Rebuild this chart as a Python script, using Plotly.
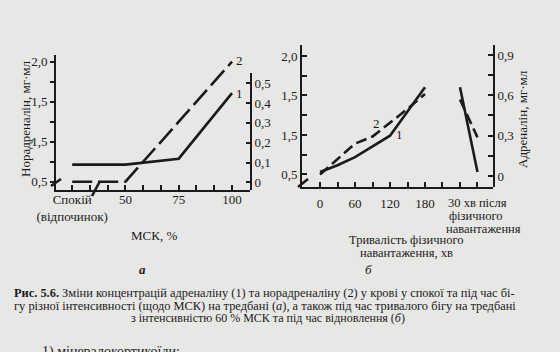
import plotly.graph_objects as go

# ---------------- data ----------------
msk_ticktext = ["Спокій<br>(відпочинок)", "50", "75", "100"]
msk_x = [25, 50, 75, 100]          # rest ("Спокій") drawn at 25 on the broken axis
adrenaline_a = [0.09, 0.09, 0.12, 0.45]
noradrenaline_a = [0.50, 0.50, 1.25, 2.00]

run_minutes = [0, 30, 60, 90, 120, 150, 180]
adrenaline_b = [0.03, 0.08, 0.14, 0.22, 0.30, 0.48, 0.66]
noradrenaline_b = [0.50, 0.70, 0.89, 0.98, 1.15, 1.33, 1.52]

recovery_minutes = [0, 30]
adrenaline_rec = [0.66, 0.03]
noradrenaline_rec = [1.45, 0.97]

nor_ticks = [0.5, 0.75, 1.0, 1.25, 1.5, 1.75, 2.0]
nor_ticktext = ["0,5", "", "1,5", "", "1,5", "", "2,0"]
adr_a_ticks = [0, 0.1, 0.2, 0.3, 0.4, 0.5]
adr_a_ticktext = ["0", "0,1", "0,2", "0,3", "0,4", "0,5"]
adr_b_ticks = [0, 0.15, 0.3, 0.45, 0.6, 0.75, 0.9]
adr_b_ticktext = ["0", "", "0,3", "", "0,6", "", "0,9"]
run_ticks = [0, 30, 60, 90, 120, 150, 180, 210, 240, 270]
run_ticktext = ["0", "", "60", "", "120", "", "180", "", "", ""]

REC_OFFSET = 240   # recovery block placed after the run on the same axis

# ---------------- style ----------------
W, H = 560, 352
INK = "#1b1b1b"
BG = "#e7e7e5"
FONT = "Liberation Serif, Times New Roman, DejaVu Serif, serif"


def px(x):
    return x / W


def py(y):
    return 1 - y / H


msk_minor = [25 + k * 25 / 3 for k in range(10)]
label_at = dict(zip(msk_x, msk_ticktext))
msk_minor_text = []
for v in msk_minor:
    key = next((k for k in label_at if abs(k - v) < 1e-6), None)
    msk_minor_text.append(label_at[key] if key is not None else "")

fig = go.Figure()

# panel a
fig.add_trace(go.Scatter(x=msk_x, y=adrenaline_a, xaxis="x", yaxis="y2", mode="lines",
                         line=dict(color=INK, width=2.6), showlegend=False))
fig.add_trace(go.Scatter(x=msk_x, y=noradrenaline_a, xaxis="x", yaxis="y", mode="lines",
                         line=dict(color=INK, width=2.6, dash="20px,6px"), showlegend=False))
# panel b
fig.add_trace(go.Scatter(x=run_minutes, y=adrenaline_b, xaxis="x2", yaxis="y4", mode="lines",
                         line=dict(color=INK, width=2.6), showlegend=False))
fig.add_trace(go.Scatter(x=run_minutes, y=noradrenaline_b, xaxis="x2", yaxis="y3", mode="lines",
                         line=dict(color=INK, width=2.6, dash="11px,5px"), showlegend=False))
fig.add_trace(go.Scatter(x=[REC_OFFSET + m for m in recovery_minutes], y=adrenaline_rec,
                         xaxis="x2", yaxis="y4", mode="lines",
                         line=dict(color=INK, width=2.6), showlegend=False))
fig.add_trace(go.Scatter(x=[REC_OFFSET + m for m in recovery_minutes], y=noradrenaline_rec,
                         xaxis="x2", yaxis="y3", mode="lines",
                         line=dict(color=INK, width=2.6, dash="11px,5px"), showlegend=False))

axis_common = dict(showline=True, linecolor=INK, linewidth=2, showgrid=False, zeroline=False,
                   tickcolor=INK, tickwidth=1.5, tickfont=dict(family=FONT, size=13, color=INK),
                   fixedrange=True, automargin=False)

fig.update_layout(
    width=W, height=H, margin=dict(l=0, r=0, t=0, b=0, autoexpand=False),
    paper_bgcolor=BG, plot_bgcolor="rgba(0,0,0,0)",
    font=dict(family=FONT, color=INK),
    xaxis=dict(axis_common, domain=[px(56), px(250)], range=[17.4, 108.45], anchor="y",
               tickmode="array", tickvals=msk_minor, ticktext=msk_minor_text,
               ticks="inside", ticklen=5, ticklabelstandoff=-3),
    yaxis=dict(axis_common, domain=[py(189.5), py(55)], range=[0.4025, 2.084], anchor="x",
               side="left", tickmode="array", tickvals=nor_ticks, ticktext=nor_ticktext,
               ticks="outside", ticklen=4),
    yaxis2=dict(axis_common, domain=[py(189.5), py(73.3)], range=[-0.0353, 0.550], anchor="x",
                side="right", tickmode="array", tickvals=adr_a_ticks, ticktext=adr_a_ticktext,
                ticks="inside", ticklen=4),
    xaxis2=dict(axis_common, domain=[px(302), px(493)], range=[-30.9, 296.6], anchor="y3",
                tickmode="array", tickvals=run_ticks, ticktext=run_ticktext,
                ticks="inside", ticklen=5, ticklabelstandoff=4),
    yaxis3=dict(axis_common, domain=[py(186.5), py(45)], range=[0.348, 2.139], anchor="x2",
                side="left", tickmode="array", tickvals=nor_ticks, ticktext=nor_ticktext,
                ticks="inside", ticklen=5),
    yaxis4=dict(axis_common, domain=[py(186.5), py(45)], range=[-0.078, 0.974], anchor="x2",
                side="right", tickmode="array", tickvals=adr_b_ticks, ticktext=adr_b_ticktext,
                ticks="inside", ticklen=5),
)

ann = []


def text(x, y, s, size=13, xanchor="center", yanchor="middle", angle=0, xref="paper", yref="paper"):
    if xref == "paper":
        x = px(x)
    if yref == "paper":
        y = py(y)
    ann.append(dict(x=x, y=y, xref=xref, yref=yref, text=s, showarrow=False,
                    xanchor=xanchor, yanchor=yanchor, textangle=angle,
                    font=dict(family=FONT, size=size, color=INK)))


# curve numbers
text(101, 2.02, "2", xanchor="left", xref="x", yref="y")
text(101, 0.45, "1", xanchor="left", xref="x", yref="y2")
text(96, 1.15, "2", xref="x2", yref="y3")
text(137, 0.305, "1", xref="x2", yref="y4")

# axis titles
text(25, 119, "Норадреналін, мг·мл", size=13, angle=-90)
text(522, 119, "Адреналін, мг·мл", size=13, angle=-90)
text(154, 235, "МСК, %", size=13)
text(406, 240, "Тривалість фізичного", size=12.5)
text(406, 252.5, "навантаження, хв", size=12.5)
text(477, 203, "30 хв після", size=12.5)
text(476, 215.5, "фізичного", size=12.5)
text(483, 228.5, "навантаження", size=12.5)

# panel letters
text(142, 269, "<b><i>а</i></b>", size=13)
text(368, 269, "<i>б</i>", size=13)

# caption
cap = 12.4
text(12, 293, "<b>Рис. 5.6.</b> Зміни концентрацій адреналіну (1) та норадреналіну (2) у крові у спокої та під час бі-",
     size=cap, xanchor="left")
text(12, 305.5, "гу різної інтенсивності (щодо МСК) на тредбані (<i>а</i>), а також під час тривалого бігу на тредбані",
     size=cap, xanchor="left")
text(268, 318, "з інтенсивністю 60 % МСК та під час відновлення (<i>б</i>)", size=12)
text(40, 352, "1) мінералокортикоїди:", size=14, xanchor="left")

fig.update_layout(annotations=ann)

# axis break marks (decoration)
shapes = []
for (x0, y0, x1, y1) in [(51, 186, 61, 179), (100, 181, 92, 196), (298, 187, 308, 179)]:
    shapes.append(dict(type="line", xref="paper", yref="paper",
                       x0=px(x0), y0=py(y0), x1=px(x1), y1=py(y1),
                       line=dict(color=INK, width=2.6)))
fig.update_layout(shapes=shapes)

fig.write_html("out.html")
